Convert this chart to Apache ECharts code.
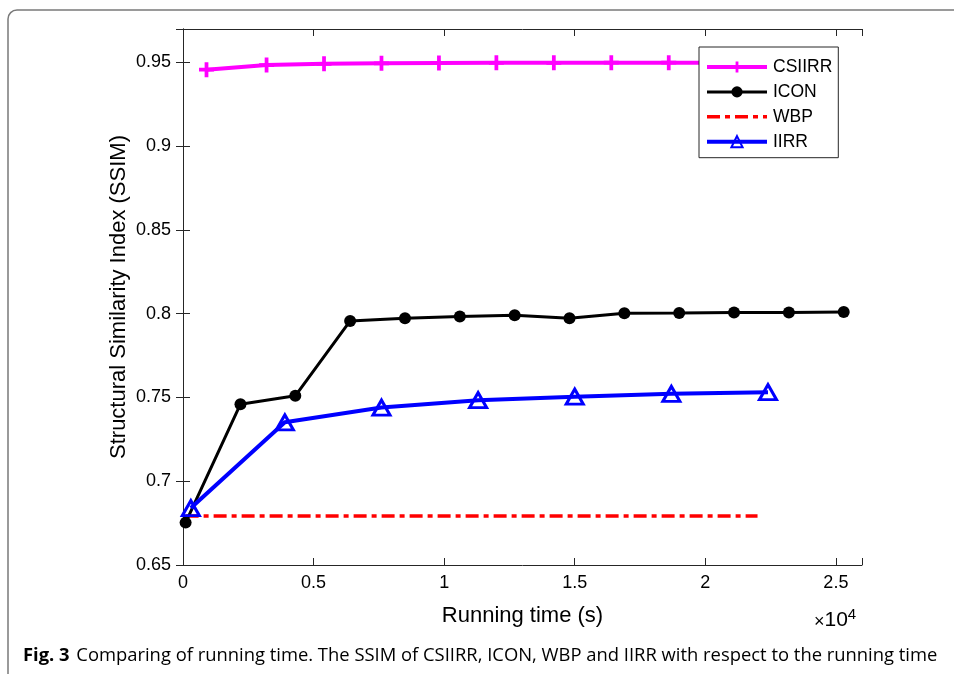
<!DOCTYPE html>
<html>
<head>
<meta charset="utf-8">
<script src="https://cdn.jsdelivr.net/npm/echarts@6/dist/echarts.min.js"></script>
<style>html,body{margin:0;padding:0;background:#fff}#c{width:954px;height:674px}</style>
</head>
<body>
<div id="c"></div>
<script>
// ---- data ----
const seriesNames = ['CSIIRR', 'ICON', 'WBP', 'IIRR'];
const csiirrX = [900, 3200, 5400, 7600, 9800, 12000, 14200, 16400, 18600, 20800, 23000];
const csiirrY = [0.9457, 0.9485, 0.9492, 0.9495, 0.9497, 0.9498, 0.9498, 0.9499, 0.9499, 0.9499, 0.9499];
const iconX = [100, 2200, 4300, 6400, 8500, 10600, 12700, 14800, 16900, 19000, 21100, 23200, 25300];
const iconY = [0.6753, 0.7460, 0.7510, 0.7957, 0.7973, 0.7984, 0.7991, 0.7973, 0.8003, 0.8004, 0.8007, 0.8008, 0.8010];
const wbpX = [100, 22000];
const wbpY = [0.6793, 0.6793];
const iirrX = [300, 3900, 7600, 11300, 15000, 18700, 22400];
const iirrY = [0.6840, 0.7352, 0.7440, 0.7484, 0.7505, 0.7522, 0.7532];
const xTicks = ['0', '0.5', '1', '1.5', '2', '2.5'];
const yTicks = ['0.65', '0.7', '0.75', '0.8', '0.85', '0.9', '0.95'];
const xLabel = 'Running time (s)';
const yLabel = 'Structural Similarity Index (SSIM)';
const caption = 'Comparing of running time. The SSIM of CSIIRR, ICON, WBP and IIRR with respect to the running time';

const zip = (xs, ys) => xs.map((x, i) => [x, ys[i]]);
const AX = '#262626';
const FONT = '"Liberation Sans", Arial, Helvetica, sans-serif';
const plus = 'path://M-1.5,-6 L1.5,-6 L1.5,-1.5 L6,-1.5 L6,1.5 L1.5,1.5 L1.5,6 L-1.5,6 L-1.5,1.5 L-6,1.5 L-6,-1.5 L-1.5,-1.5 Z';

const xFmt = v => { const k = v / 5000; return Math.abs(k - Math.round(k)) < 1e-6 ? xTicks[Math.round(k)] : ''; };
const yFmt = v => { const k = (v - 0.65) / 0.05; return Math.abs(k - Math.round(k)) < 1e-6 && Math.round(k) < yTicks.length ? yTicks[Math.round(k)] : ''; };

const mkTick = () => ({ show: true, inside: true, length: 7, lineStyle: { color: AX, width: 1 } });
const mkLine = () => ({ show: true, lineStyle: { color: AX, width: 1 } });

const chart = echarts.init(document.getElementById('c'), null, { renderer: 'canvas' });
chart.setOption({
  animation: false,
  backgroundColor: '#fff',
  grid: { left: 183, right: 92, top: 29, bottom: 109, containLabel: false },
  xAxis: [
    {
      type: 'value', min: 0, max: 26000, interval: 5000, position: 'bottom',
      axisLine: mkLine(), axisTick: mkTick(), splitLine: { show: false },
      axisLabel: { formatter: xFmt, color: '#000', fontSize: 18, fontFamily: FONT, margin: 9 },
      name: xLabel, nameLocation: 'middle', nameGap: 40, nameMoveOverlap: false,
      nameTextStyle: { color: '#000', fontSize: 22, fontFamily: FONT }
    },
    {
      type: 'value', min: 0, max: 26000, interval: 5000, position: 'top',
      axisLine: mkLine(), axisTick: mkTick(), splitLine: { show: false },
      axisLabel: { show: false }
    }
  ],
  yAxis: [
    {
      type: 'value', min: 0.65, max: 0.97, interval: 0.05, position: 'left',
      axisLine: mkLine(), axisTick: mkTick(), splitLine: { show: false },
      axisLabel: { formatter: yFmt, color: '#000', fontSize: 18, fontFamily: FONT, margin: 12 },
      name: yLabel, nameLocation: 'middle', nameGap: 53, nameMoveOverlap: false,
      nameTextStyle: { color: '#000', fontSize: 22, fontFamily: FONT }
    },
    {
      type: 'value', min: 0.65, max: 0.97, interval: 0.05, position: 'right',
      axisLine: mkLine(), axisTick: mkTick(), splitLine: { show: false },
      axisLabel: { show: false }
    }
  ],
  legend: {
    orient: 'vertical', left: 699, top: 47,
    data: [
      { name: seriesNames[0], lineStyle: { width: 4 } },
      { name: seriesNames[1], lineStyle: { width: 3 } },
      { name: seriesNames[2], lineStyle: { width: 3.5 }, itemStyle: { opacity: 0 } },
      { name: seriesNames[3], lineStyle: { width: 4 } }
    ],
    itemWidth: 60, itemHeight: 14, itemGap: 6.9,
    padding: [11, 6, 7, 6],
    backgroundColor: '#fff', borderColor: AX, borderWidth: 1, borderRadius: 0,
    textStyle: { color: '#000', fontSize: 17.5, fontFamily: FONT, padding: [0, 0, 0, 1] },
    z: 10
  },
  series: [
    {
      name: seriesNames[0], type: 'line', data: zip(csiirrX, csiirrY),
      symbol: plus, symbolSize: 15, showAllSymbol: true,
      lineStyle: { color: '#ff00ff', width: 4 }, itemStyle: { color: '#ff00ff' }, z: 3
    },
    {
      name: seriesNames[1], type: 'line', data: zip(iconX, iconY),
      symbol: 'circle', symbolSize: 12, showAllSymbol: true,
      lineStyle: { color: '#000', width: 3 }, itemStyle: { color: '#000' }, z: 3
    },
    {
      name: seriesNames[2], type: 'line', data: zip(wbpX, wbpY),
      symbol: 'none',
      lineStyle: { color: '#ff0000', width: 3.5, type: [13, 5, 5, 5] }, itemStyle: { color: '#ff0000' }, z: 2
    },
    {
      name: seriesNames[3], type: 'line', data: zip(iirrX, iirrY),
      symbol: 'triangle', symbolSize: [17, 15], showAllSymbol: true,
      lineStyle: { color: '#0000ff', width: 4 },
      itemStyle: { color: 'rgba(255,255,255,0)', borderColor: '#0000ff', borderWidth: 3 }, z: 4
    }
  ],
  graphic: [
    { type: 'rect', silent: true, shape: { x: 8, y: 10, width: 2000, height: 2000, r: 9 },
      style: { fill: 'none', stroke: '#7a7a7a', lineWidth: 1.5 }, z: -10 },
    { type: 'text', left: 814, top: 607, silent: true,
      style: { text: '{a|×}{b|10}{s|4}', rich: {
        a: { fontSize: 18, fontFamily: FONT, fill: '#000', verticalAlign: 'bottom', lineHeight: 24 },
        b: { fontSize: 21, fontFamily: FONT, fill: '#000', verticalAlign: 'bottom', lineHeight: 24 },
        s: { fontSize: 15, fontFamily: FONT, fill: '#000', verticalAlign: 'top', lineHeight: 24, padding: [0, 0, 10, 0] } } } },
    { type: 'text', left: 23, top: 647, silent: true,
      style: { text: '{b|Fig. 3}  {r|' + caption + '}', rich: {
        b: { fontSize: 18.4, fontWeight: 'bold', fontFamily: '"Open Sans", sans-serif', fill: '#000' },
        r: { fontSize: 18.4, fontFamily: '"Open Sans", sans-serif', fill: '#000' } } } }
  ]
});
</script>
</body>
</html>
